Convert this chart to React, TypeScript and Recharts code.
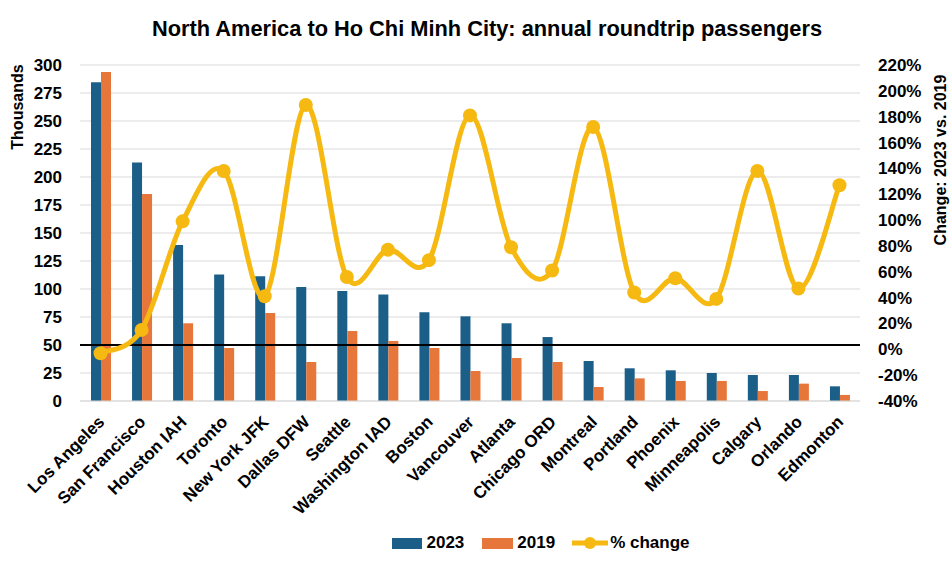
import { ComposedChart, Bar, Line, XAxis, YAxis, CartesianGrid, ReferenceLine, Legend } from "recharts";

const cities = [
  "Los Angeles", "San Francisco", "Houston IAH", "Toronto", "New York JFK", "Dallas DFW",
  "Seattle", "Washington IAD", "Boston", "Vancouver", "Atlanta", "Chicago ORD", "Montreal",
  "Portland", "Phoenix", "Minneapolis", "Calgary", "Orlando", "Edmonton",
];

// thousands of passengers
const passengers2023 = [284.5, 213, 139.3, 113, 111.3, 101.8, 98.2, 95.2, 79.2, 75.6, 69.4, 57.1, 35.7, 29.2, 27.4, 25, 23.2, 23.2, 13.1];
const passengers2019 = [293.7, 184.8, 69.4, 47.3, 78.6, 34.8, 62.5, 53.6, 47.3, 26.8, 38.4, 34.8, 12.5, 20.2, 17.9, 17.9, 8.9, 15.5, 5.4];
// % change 2023 vs 2019
const pctChange = [-3, 15, 99, 138, 41, 189, 56, 77, 69, 181, 79, 61, 172, 44, 55, 39, 138, 47, 127];

const leftTicks = [0, 25, 50, 75, 100, 125, 150, 175, 200, 225, 250, 275, 300];
const rightTicks = [-40, -20, 0, 20, 40, 60, 80, 100, 120, 140, 160, 180, 200, 220];

const BLUE = "#1b5e88";
const ORANGE = "#e7763a";
const GOLD = "#f5b912";
const FONT = "'Liberation Sans', Arial, sans-serif";

const data = cities.map((city, i) => ({
  city,
  y2023: passengers2023[i],
  y2019: passengers2019[i],
  pct: pctChange[i],
}));

// Catmull-Rom style smoothing, close to Excel's "smoothed line"
const smoothCurve = (context: any) => {
  let pts: number[][] = [];
  return {
    areaStart() {},
    areaEnd() {},
    lineStart() {
      pts = [];
    },
    lineEnd() {
      if (!pts.length) return;
      context.moveTo(pts[0][0], pts[0][1]);
      for (let i = 0; i < pts.length - 1; i++) {
        const p0 = pts[i - 1] || pts[i];
        const p1 = pts[i];
        const p2 = pts[i + 1];
        const p3 = pts[i + 2] || p2;
        context.bezierCurveTo(
          p1[0] + (p2[0] - p0[0]) / 6,
          p1[1] + (p2[1] - p0[1]) / 6,
          p2[0] - (p3[0] - p1[0]) / 6,
          p2[1] - (p3[1] - p1[1]) / 6,
          p2[0],
          p2[1]
        );
      }
    },
    point(x: number, y: number) {
      pts.push([+x, +y]);
    },
  };
};

const CityTick = ({ x, y, payload }: any) => (
  <g transform={`translate(${x + 5},${y + 14})`}>
    <text transform="rotate(-45)" textAnchor="end" fontSize={17} fontWeight="bold" fill="#000" fontFamily={FONT}>
      {payload.value}
    </text>
  </g>
);

const renderLegend = () => (
  <div
    style={{
      height: 30,
      display: "flex",
      justifyContent: "center",
      alignItems: "center",
      paddingLeft: 130,
      fontFamily: FONT,
      fontWeight: "bold",
      fontSize: 17,
      color: "#000",
    }}
  >
    <span style={{ width: 30, height: 11, background: BLUE, marginRight: 4 }} />
    <span style={{ marginRight: 18 }}>2023</span>
    <span style={{ width: 31, height: 11, background: ORANGE, marginRight: 4 }} />
    <span style={{ marginRight: 17 }}>2019</span>
    <svg width={36} height={14} style={{ marginRight: 2 }}>
      <line x1={0} y1={7} x2={36} y2={7} stroke={GOLD} strokeWidth={5} />
      <circle cx={18} cy={7} r={6} fill={GOLD} />
    </svg>
    <span>% change</span>
  </div>
);

export default function App() {
  return (
    <div style={{ position: "absolute", left: 0, top: 0, width: 952, height: 576, background: "#fff" }}>
      <div
        style={{
          position: "absolute",
          left: 87,
          width: 800,
          top: 16,
          textAlign: "center",
          fontFamily: FONT,
          fontWeight: "bold",
          fontSize: 21.8,
          color: "#000",
        }}
      >
        North America to Ho Chi Minh City: annual roundtrip passengers
      </div>
      <ComposedChart
        width={952}
        height={576}
        data={data}
        margin={{ top: 65, right: 0, left: 0, bottom: 18 }}
        barGap={0}
        barSize={10}
      >
        <CartesianGrid vertical={false} stroke="#d9d9d9" yAxisId="left" />
        <XAxis
          dataKey="city"
          interval={0}
          height={127}
          tickLine={false}
          axisLine={{ stroke: "#d9d9d9" }}
          tick={<CityTick />}
        />
        <YAxis
          yAxisId="left"
          domain={[0, 300]}
          ticks={leftTicks}
          width={80}
          tickLine={false}
          axisLine={false}
          tickSize={0}
          tickMargin={18}
          tick={{ fontSize: 17, fontWeight: "bold", fill: "#000", fontFamily: FONT }}
          label={() => (
            <text
              x={0}
              y={0}
              transform="translate(17,107) rotate(-90)"
              textAnchor="middle"
              dominantBaseline="central"
              fontSize={16}
              fontWeight="bold"
              fill="#000"
              fontFamily={FONT}
            >
              Thousands
            </text>
          )}
        />
        <YAxis
          yAxisId="right"
          orientation="right"
          domain={[-40, 220]}
          ticks={rightTicks}
          width={92}
          tickLine={false}
          axisLine={false}
          tickSize={0}
          tickMargin={18}
          tickFormatter={(v: number) => `${v}%`}
          tick={{ fontSize: 17, fontWeight: "bold", fill: "#000", fontFamily: FONT }}
          label={() => (
            <text
              x={0}
              y={0}
              transform="translate(940,160) rotate(-90)"
              textAnchor="middle"
              dominantBaseline="central"
              fontSize={16}
              fontWeight="bold"
              fill="#000"
              fontFamily={FONT}
            >
              Change: 2023 vs. 2019
            </text>
          )}
        />
        <Legend verticalAlign="bottom" content={renderLegend} />
        <Bar yAxisId="left" dataKey="y2023" name="2023" fill={BLUE} isAnimationActive={false} />
        <Bar yAxisId="left" dataKey="y2019" name="2019" fill={ORANGE} isAnimationActive={false} />
        <ReferenceLine yAxisId="left" y={50} stroke="#000" strokeWidth={2} />
        <Line
          yAxisId="right"
          dataKey="pct"
          name="% change"
          type={smoothCurve as any}
          stroke={GOLD}
          strokeWidth={5}
          dot={{ r: 7, fill: GOLD, stroke: GOLD, strokeWidth: 0 }}
          activeDot={false}
          isAnimationActive={false}
        />
      </ComposedChart>
    </div>
  );
}
